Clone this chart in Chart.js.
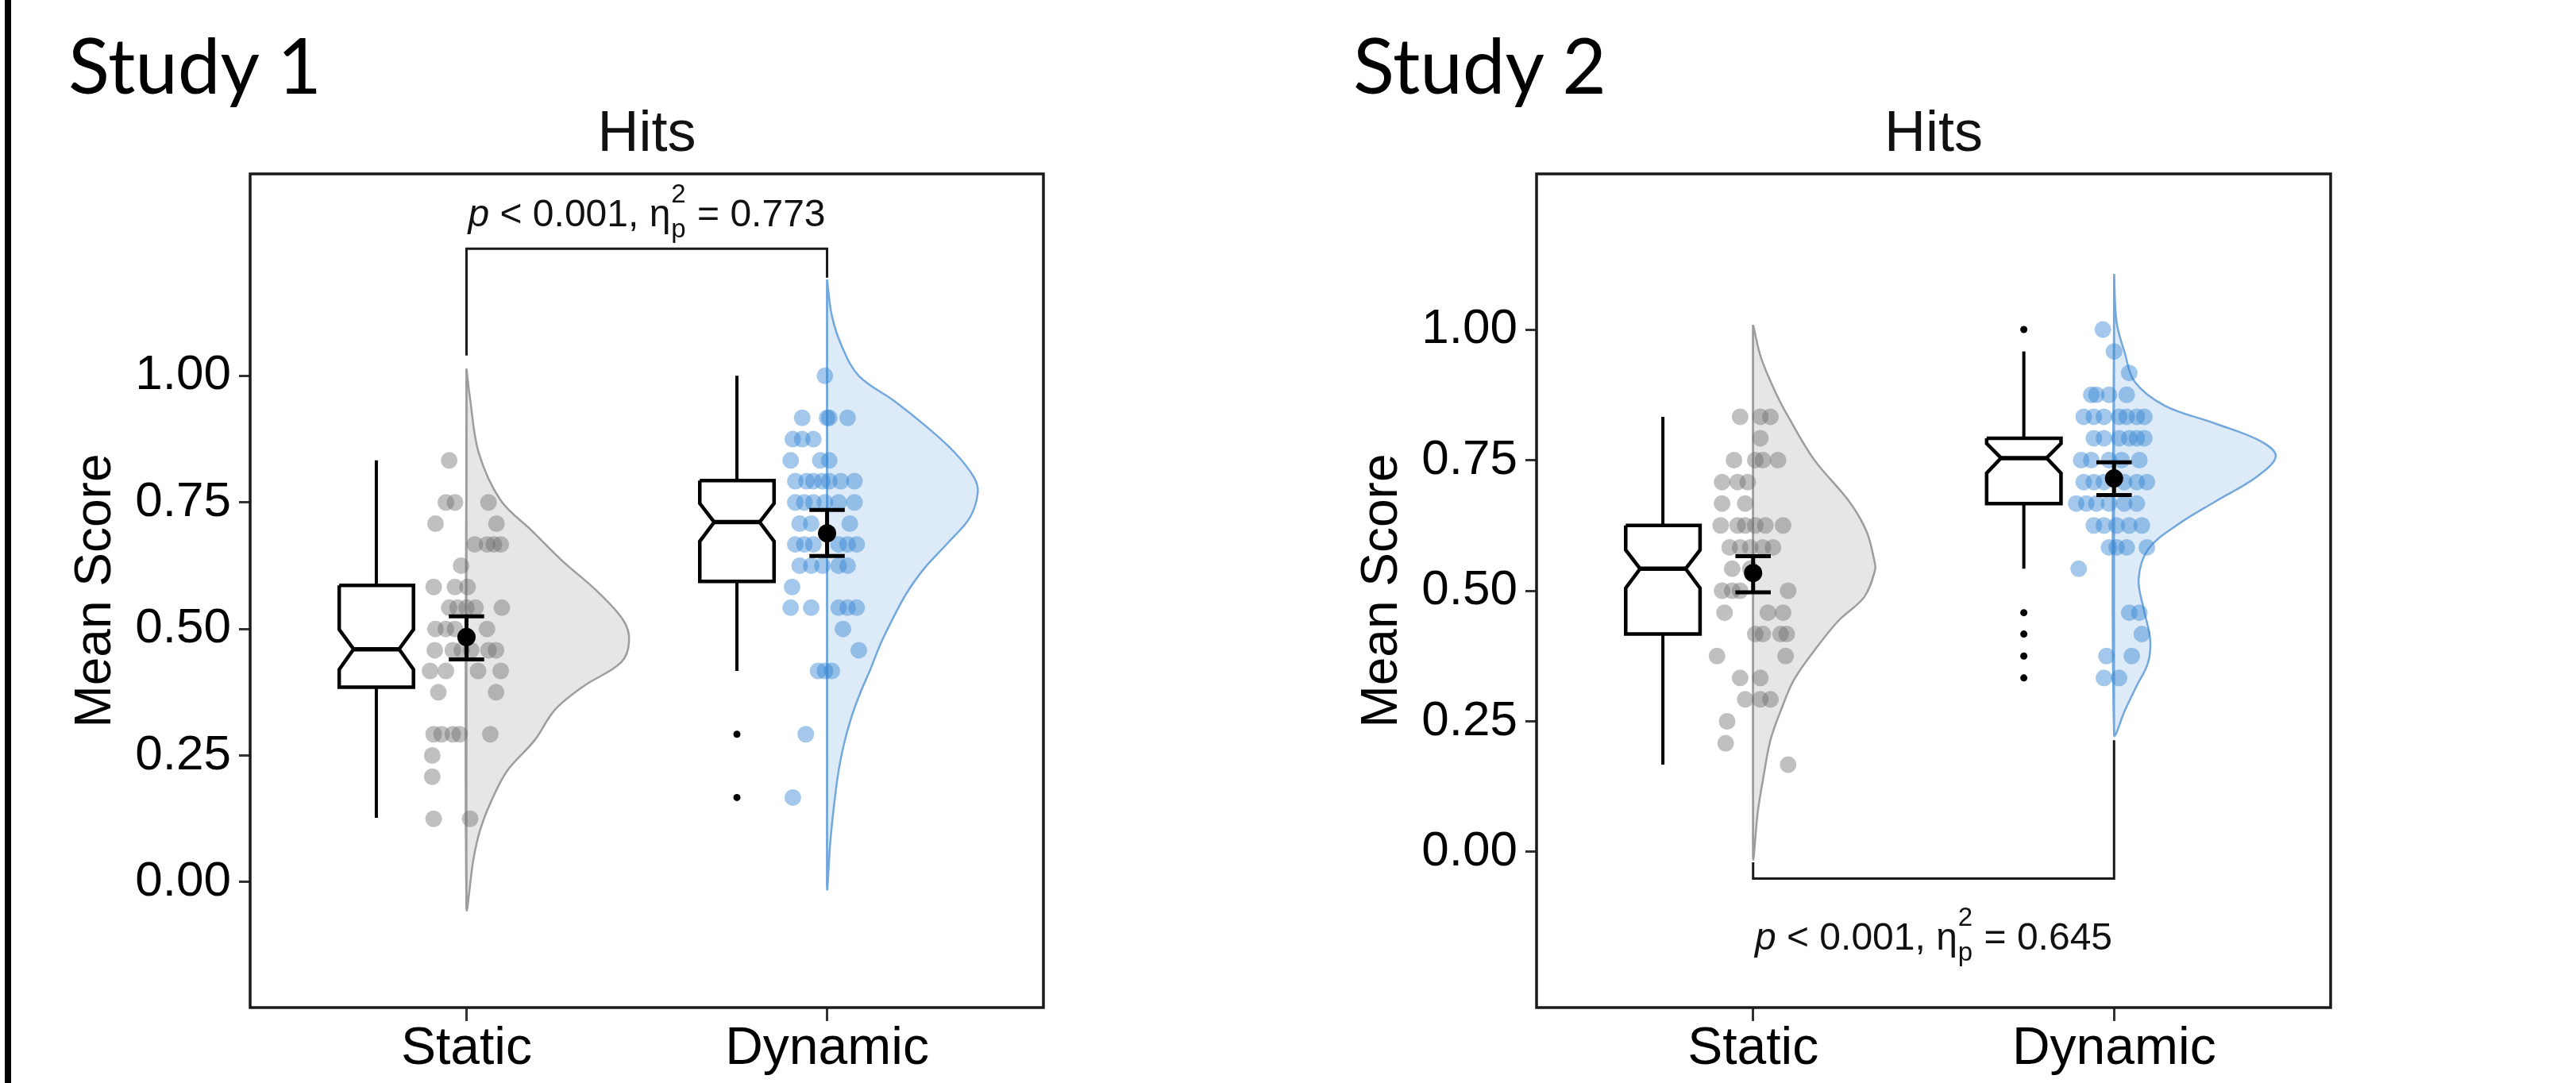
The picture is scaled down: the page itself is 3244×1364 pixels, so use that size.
<!DOCTYPE html>
<html>
<head>
<meta charset="utf-8">
<script src="https://cdn.jsdelivr.net/npm/chart.js@4.4.1/dist/chart.umd.min.js"></script>
<style>
  html, body { margin: 0; padding: 0; background: #fff; }
  body { width: 3244px; height: 1364px; position: relative; overflow: hidden; }
  .edge { position: absolute; left: 6px; top: 0; width: 8px; height: 1364px; background: #000; }
  .study { position: absolute; top: 33px; font-family: Lato, "Open Sans", sans-serif; font-weight: 400; font-size: 96px; line-height: 1; color: #000; }
  .panel { position: absolute; top: 0; height: 1364px; }
</style>
</head>
<body>
<div class="edge"></div>
<div class="study" style="left:86px">Study 1</div>
<div class="study" style="left:1704px">Study 2</div>
<div class="panel" style="left:0; width:1620px"><canvas id="study1"></canvas></div>
<div class="panel" style="left:1620px; width:1624px"><canvas id="study2"></canvas></div>

<script>
const FONT = '"Liberation Sans", Arial, Helvetica, sans-serif';

const categories = ["Static", "Dynamic"];
const yTicks = [0, 0.25, 0.5, 0.75, 1];

// ---- Study 1 ----------------------------------------------------------
const s1YRange = [-0.248, 1.399];

const s1StaticScores = [0.833, 0.75, 0.75, 0.75, 0.708, 0.708, 0.667, 0.667, 0.667, 0.667, 0.625,
  0.583, 0.583, 0.583, 0.542, 0.542, 0.542, 0.542, 0.542, 0.5, 0.5, 0.5, 0.5,
  0.458, 0.458, 0.458, 0.458, 0.458, 0.458, 0.417, 0.417, 0.417, 0.417, 0.375, 0.375,
  0.292, 0.292, 0.292, 0.292, 0.292, 0.25, 0.208, 0.125, 0.125];
const s1StaticJitter = [-0.048, -0.057, -0.032, 0.061, -0.086, 0.083, 0.023, 0.057, 0.076, 0.095, -0.015,
  -0.091, -0.032, 0.003, -0.048, -0.025, 0.0, 0.025, 0.098, -0.086, -0.057, -0.032, 0.057,
  -0.088, -0.038, -0.013, 0.013, 0.061, 0.082, -0.101, -0.057, 0.032, 0.095, -0.078, 0.082,
  -0.091, -0.069, -0.038, -0.019, 0.066, -0.095, -0.095, -0.091, 0.01];
// low whisker, Q1, notch low, median, notch high, Q3, high whisker
const s1StaticBox = [0.127, 0.385, 0.420, 0.460, 0.499, 0.586, 0.833];
const s1StaticMean = [0.484, 0.440, 0.525]; // mean, lower, upper
const s1StaticOutliers = [];
const s1StaticDensityY = [1.014, 0.955, 0.848, 0.754, 0.695, 0.635, 0.576, 0.517, 0.476, 0.434, 0.387, 0.340, 0.280, 0.221, 0.162, 0.103, 0.044, -0.051];
const s1StaticDensityW = [0, 0.010, 0.034, 0.095, 0.180, 0.265, 0.360, 0.435, 0.451, 0.429, 0.325, 0.245, 0.189, 0.114, 0.070, 0.038, 0.019, 0];

const s1DynamicScores = [1.0, 0.917, 0.917, 0.917, 0.917, 0.875, 0.875, 0.875, 0.833, 0.833, 0.833,
  0.792, 0.792, 0.792, 0.792, 0.792, 0.792, 0.792, 0.75, 0.75, 0.75, 0.75, 0.75, 0.75,
  0.708, 0.708, 0.708, 0.667, 0.667, 0.667, 0.667, 0.667, 0.667, 0.625, 0.625, 0.625, 0.625, 0.625,
  0.583, 0.542, 0.542, 0.542, 0.542, 0.542, 0.5, 0.458, 0.417, 0.417, 0.417, 0.292, 0.167];
const s1DynamicJitter = [-0.006, -0.069, 0, 0.006, 0.057, -0.095, -0.069, -0.038, -0.101, -0.019, 0.006,
  -0.088, -0.057, -0.038, -0.013, 0.006, 0.038, 0.076, -0.088, -0.063, -0.038, -0.006, 0.032, 0.076,
  -0.076, -0.044, 0.063, -0.088, -0.063, -0.038, 0.032, 0.057, 0.082, -0.076, -0.044, -0.013, 0.032, 0.057,
  -0.097, -0.101, -0.044, 0.032, 0.057, 0.082, 0.044, 0.088, -0.025, -0.006, 0.013, -0.059, -0.095];
const s1DynamicBox = [0.417, 0.594, 0.673, 0.711, 0.748, 0.793, 1.0];
const s1DynamicMean = [0.689, 0.644, 0.735];
const s1DynamicOutliers = [0.292, 0.167];
const s1DynamicDensityY = [1.19, 1.12, 1.06, 1.0, 0.95, 0.9, 0.85, 0.8, 0.77, 0.72, 0.67, 0.62, 0.57, 0.52, 0.47, 0.42, 0.37, 0.32, 0.27, 0.22, 0.15, 0.08, -0.01];
const s1DynamicDensityW = [0, 0.013, 0.040, 0.088, 0.187, 0.275, 0.352, 0.407, 0.418, 0.396, 0.335, 0.270, 0.220, 0.182, 0.148, 0.120, 0.090, 0.065, 0.046, 0.032, 0.019, 0.009, 0];

const s1BracketX = [1, 1, 2, 2];
const s1BracketY = [1.04, 1.251, 1.251, 1.194];
const s1LabelPos = [1.5, 1.296];
const s1Stats = ["0.001", "0.773"];

// ---- Study 2 ----------------------------------------------------------
const s2YRange = [-0.298, 1.298];

const s2StaticScores = [0.833, 0.833, 0.833, 0.792, 0.75, 0.75, 0.75, 0.75, 0.708, 0.708, 0.708,
  0.667, 0.667, 0.625, 0.625, 0.625, 0.625, 0.625, 0.625, 0.583, 0.583, 0.583, 0.583, 0.583,
  0.542, 0.542, 0.5, 0.5, 0.5, 0.5, 0.458, 0.458, 0.458, 0.417, 0.417, 0.417, 0.417,
  0.375, 0.375, 0.333, 0.333, 0.292, 0.292, 0.292, 0.25, 0.208, 0.167];
const s2StaticJitter = [-0.036, 0.020, 0.048, 0.020, -0.053, 0.006, 0.027, 0.069, -0.086, -0.043, -0.015,
  -0.086, -0.022, -0.090, -0.043, -0.022, 0.006, 0.034, 0.083, -0.065, -0.036, -0.008, 0.027, 0.055,
  -0.058, -0.008, -0.086, -0.058, -0.036, 0.097, -0.079, 0.041, 0.083, 0.006, 0.027, 0.076, 0.093,
  -0.1, 0.09, -0.036, 0.020, -0.022, 0.020, 0.048, -0.072, -0.076, 0.097];
const s2StaticBox = [0.167, 0.417, 0.505, 0.542, 0.578, 0.625, 0.833];
const s2StaticMean = [0.534, 0.497, 0.566];
const s2StaticOutliers = [];
const s2StaticDensityY = [1.009, 0.946, 0.877, 0.831, 0.751, 0.671, 0.614, 0.557, 0.540, 0.488, 0.443, 0.385, 0.328, 0.271, 0.214, 0.145, 0.077, -0.01];
const s2StaticDensityW = [0, 0.022, 0.064, 0.099, 0.169, 0.266, 0.314, 0.336, 0.338, 0.308, 0.237, 0.169, 0.112, 0.077, 0.048, 0.029, 0.013, 0];

const s2DynamicScores = [1.0, 0.958, 0.917, 0.875, 0.875, 0.875, 0.875,
  0.833, 0.833, 0.833, 0.833, 0.833, 0.833, 0.833, 0.792, 0.792, 0.792, 0.792, 0.792, 0.792,
  0.75, 0.75, 0.75, 0.75, 0.75, 0.708, 0.708, 0.708, 0.708, 0.708, 0.708,
  0.667, 0.667, 0.667, 0.667, 0.667, 0.667, 0.625, 0.625, 0.625, 0.625, 0.625,
  0.583, 0.583, 0.583, 0.583, 0.542, 0.458, 0.458, 0.417, 0.375, 0.375, 0.333, 0.333];
const s2DynamicJitter = [-0.031, 0, 0.042, -0.063, -0.049, -0.014, 0.035,
  -0.084, -0.056, -0.028, 0.014, 0.035, 0.063, 0.084, -0.056, -0.028, 0.014, 0.042, 0.063, 0.084,
  -0.091, -0.063, -0.014, 0.021, 0.070, -0.084, -0.056, -0.028, 0.028, 0.063, 0.091,
  -0.105, -0.077, -0.049, -0.014, 0.028, 0.063, -0.056, -0.028, 0.007, 0.042, 0.077,
  -0.014, 0.007, 0.035, 0.091, -0.098, 0.042, 0.070, 0.077, -0.021, 0.049, -0.028, 0.014];
const s2DynamicBox = [0.542, 0.667, 0.725, 0.754, 0.782, 0.792, 0.958];
const s2DynamicMean = [0.715, 0.683, 0.746];
const s2DynamicOutliers = [1.0, 0.458, 0.417, 0.375, 0.333];
const s2DynamicDensityY = [1.106, 1.014, 0.957, 0.9, 0.854, 0.82, 0.786, 0.757, 0.717, 0.671, 0.626, 0.58, 0.523, 0.465, 0.408, 0.362, 0.317, 0.271, 0.225];
const s2DynamicDensityW = [0, 0.007, 0.029, 0.057, 0.141, 0.281, 0.407, 0.448, 0.393, 0.281, 0.175, 0.095, 0.068, 0.082, 0.100, 0.094, 0.062, 0.030, 0];

const s2BracketX = [1, 1, 2, 2];
const s2BracketY = [-0.02, -0.051, -0.051, 0.214];
const s2LabelPos = [1.5, -0.187];
const s2Stats = ["0.001", "0.645"];

// ---- drawing ----------------------------------------------------------
const PALETTES = [
  { rain: "rgba(105, 105, 105, 0.42)", cloudFill: "rgba(200, 200, 200, 0.45)", cloudLine: "#9d9d9d" },
  { rain: "rgba(52, 132, 210, 0.45)", cloudFill: "rgba(100, 160, 220, 0.22)", cloudLine: "#72a8dc" },
];
const BOX_SHIFT = -0.25; // boxplot sits left of the rain
const BOX_HALF = 0.103;
const NOTCH_IN = 0.04;
const CAP_HALF = 0.049;

function line(points, color, width, order, extra) {
  return Object.assign({
    data: points, showLine: true, pointRadius: 0, pointHoverRadius: 0,
    borderColor: color, borderWidth: width, fill: false, tension: 0,
    borderJoinStyle: "miter", order,
  }, extra);
}

function groupDatasets(x0, g, pal) {
  const sets = [];
  const top = g.densityY[0], bottom = g.densityY[g.densityY.length - 1];

  // half violin, closed along the category line
  const cloud = g.densityY.map((v, i) => ({ x: x0 + g.densityW[i], y: v }));
  cloud.push({ x: x0, y: top });
  sets.push(line(cloud, pal.cloudLine, 2.5, 7, { fill: "shape", backgroundColor: pal.cloudFill, tension: 0.35 }));
  sets.push(line([{ x: x0, y: top }, { x: x0, y: bottom }], pal.cloudLine, 2.5, 6));

  // rain
  sets.push({
    data: g.scores.map((v, i) => ({ x: x0 + g.jitter[i], y: v })),
    pointRadius: 10.5, pointHoverRadius: 10.5, backgroundColor: pal.rain,
    pointBorderWidth: 0, borderWidth: 0, order: 5,
  });

  // notched box + whiskers
  const [lo, q1, nLo, med, nHi, q3, hi] = g.box;
  const bx = x0 + BOX_SHIFT, L = bx - BOX_HALF, R = bx + BOX_HALF;
  sets.push(line([{ x: bx, y: q3 }, { x: bx, y: hi }], "#000", 4, 4));
  sets.push(line([{ x: bx, y: q1 }, { x: bx, y: lo }], "#000", 4, 4));
  sets.push(line([
    { x: L, y: q3 }, { x: R, y: q3 }, { x: R, y: nHi }, { x: R - NOTCH_IN, y: med },
    { x: R, y: nLo }, { x: R, y: q1 }, { x: L, y: q1 }, { x: L, y: nLo },
    { x: L + NOTCH_IN, y: med }, { x: L, y: nHi }, { x: L, y: q3 },
  ], "#000", 4.5, 3, { fill: "shape", backgroundColor: "#fff" }));
  sets.push(line([{ x: L + NOTCH_IN, y: med }, { x: R - NOTCH_IN, y: med }], "#000", 5.5, 2));
  sets.push({
    data: g.outliers.map(v => ({ x: bx, y: v })),
    pointRadius: 4.5, backgroundColor: "#000", pointBorderWidth: 0, borderWidth: 0, order: 2,
  });

  // mean and interval
  const [m, mLo, mHi] = g.mean;
  sets.push(line([{ x: x0, y: mLo }, { x: x0, y: mHi }], "#000", 5, 1));
  sets.push(line([{ x: x0 - CAP_HALF, y: mLo }, { x: x0 + CAP_HALF, y: mLo }], "#000", 5, 1));
  sets.push(line([{ x: x0 - CAP_HALF, y: mHi }, { x: x0 + CAP_HALF, y: mHi }], "#000", 5, 1));
  sets.push({
    data: [{ x: x0, y: m }], pointRadius: 11.5, backgroundColor: "#000",
    pointBorderWidth: 0, borderWidth: 0, order: 0,
  });
  return sets;
}

// "p < 0.001, η²ₚ = 0.773" centred on (cx, baseline)
function drawStatLabel(ctx, cx, baseline, pText, etaText) {
  const main = `48px ${FONT}`, ital = `italic 48px ${FONT}`, small = `33px ${FONT}`;
  const before = ` < ${pText}, \u03b7`;
  const after = ` = ${etaText}`;
  ctx.font = ital; const wP = ctx.measureText("p").width;
  ctx.font = main; const wB = ctx.measureText(before).width, wA = ctx.measureText(after).width;
  ctx.font = small; const wS = Math.max(ctx.measureText("2").width, ctx.measureText("p").width) + 2;
  let x = cx - (wP + wB + wS + wA) / 2;
  ctx.textAlign = "left";
  ctx.textBaseline = "alphabetic";
  ctx.font = ital; ctx.fillText("p", x, baseline); x += wP;
  ctx.font = main; ctx.fillText(before, x, baseline); x += wB;
  ctx.font = small;
  ctx.fillText("2", x + 1, baseline - 30);
  ctx.fillText("p", x + 1, baseline + 14);
  x += wS;
  ctx.font = main; ctx.fillText(after, x, baseline);
}

const panelDecor = {
  id: "panelDecor",
  afterDatasetsDraw(chart, args, opts) {
    const { ctx, chartArea: a, scales: { x, y } } = chart;
    ctx.save();
    ctx.strokeStyle = "#1a1a1a";
    ctx.lineWidth = 3.5;
    ctx.strokeRect(a.left, a.top, a.right - a.left, a.bottom - a.top);

    ctx.fillStyle = "#111";
    ctx.font = `72px ${FONT}`;
    ctx.textAlign = "center";
    ctx.textBaseline = "alphabetic";
    ctx.fillText(opts.title, (a.left + a.right) / 2, 190);

    drawStatLabel(ctx, x.getPixelForValue(opts.labelPos[0]), y.getPixelForValue(opts.labelPos[1]),
      opts.stats[0], opts.stats[1]);
    ctx.restore();
  },
};

Chart.defaults.font.family = FONT;
Chart.defaults.color = "#000";

function makePanel(canvasId, groups, yRange, bracketX, bracketY, labelPos, stats, padRight) {
  const datasets = [];
  groups.forEach((g, i) => datasets.push(...groupDatasets(i + 1, g, PALETTES[i])));
  datasets.push(line(bracketX.map((bx, i) => ({ x: bx, y: bracketY[i] })), "#1a1a1a", 3, 1));

  return new Chart(document.getElementById(canvasId), {
    type: "scatter",
    data: { datasets },
    options: {
      responsive: true,
      maintainAspectRatio: false,
      animation: false,
      events: [],
      layout: { padding: { top: 219, right: padRight, bottom: 0, left: 0 } },
      scales: {
        x: {
          type: "linear", min: 0.4, max: 2.6,
          afterBuildTicks: s => { s.ticks = categories.map((_, i) => ({ value: i + 1 })); },
          afterFit: s => { s.height = 95; },
          ticks: { callback: v => categories[v - 1], font: { size: 66 }, color: "#000", padding: -4, autoSkip: false, maxRotation: 0 },
          grid: { drawOnChartArea: false, tickLength: 17, tickWidth: 3, tickColor: "#333" },
          border: { display: false },
        },
        y: {
          min: yRange[0], max: yRange[1],
          afterBuildTicks: s => { s.ticks = yTicks.map(v => ({ value: v })); },
          afterFit: s => { s.width = 315; },
          ticks: { callback: v => v.toFixed(2), font: { size: 62 }, color: "#000", padding: 10 },
          grid: { drawOnChartArea: false, tickLength: 14, tickWidth: 3, tickColor: "#333" },
          border: { display: false },
          title: { display: true, text: "Mean Score", font: { size: 64 }, color: "#000", padding: { top: 83, bottom: 0 } },
        },
      },
      plugins: {
        legend: { display: false },
        tooltip: { enabled: false },
        panelDecor: { title: "Hits", labelPos, stats },
      },
    },
    plugins: [panelDecor],
  });
}

makePanel("study1", [
  { scores: s1StaticScores, jitter: s1StaticJitter, box: s1StaticBox, mean: s1StaticMean,
    outliers: s1StaticOutliers, densityY: s1StaticDensityY, densityW: s1StaticDensityW },
  { scores: s1DynamicScores, jitter: s1DynamicJitter, box: s1DynamicBox, mean: s1DynamicMean,
    outliers: s1DynamicOutliers, densityY: s1DynamicDensityY, densityW: s1DynamicDensityW },
], s1YRange, s1BracketX, s1BracketY, s1LabelPos, s1Stats, 306);

makePanel("study2", [
  { scores: s2StaticScores, jitter: s2StaticJitter, box: s2StaticBox, mean: s2StaticMean,
    outliers: s2StaticOutliers, densityY: s2StaticDensityY, densityW: s2StaticDensityW },
  { scores: s2DynamicScores, jitter: s2DynamicJitter, box: s2DynamicBox, mean: s2DynamicMean,
    outliers: s2DynamicOutliers, densityY: s2DynamicDensityY, densityW: s2DynamicDensityW },
], s2YRange, s2BracketX, s2BracketY, s2LabelPos, s2Stats, 309);
</script>
</body>
</html>
